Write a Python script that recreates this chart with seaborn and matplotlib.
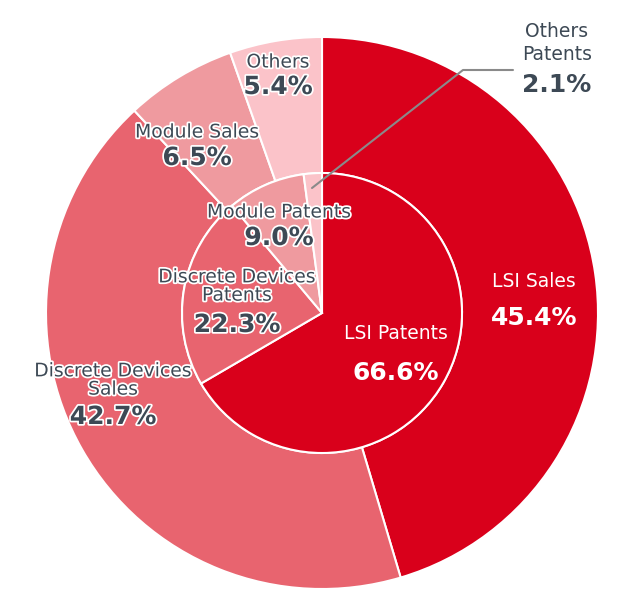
import matplotlib
matplotlib.use("Agg")
import matplotlib.pyplot as plt
import matplotlib.patheffects as pe
import seaborn as sns

# outer ring: sales share, inner pie: patent share (clockwise from 12 o'clock)
sales_labels = ["LSI Sales", "Discrete Devices\nSales", "Module Sales", "Others"]
sales_values = [45.4, 42.7, 6.5, 5.4]
patent_labels = ["LSI Patents", "Discrete Devices\nPatents", "Module Patents", "Others\nPatents"]
patent_values = [66.6, 22.3, 9.0, 2.1]
colors = ["#d9001b", "#e8646f", "#ef9a9f", "#fbc3c9"]

sns.set_theme(style="white")
plt.rcParams["font.family"] = ["DejaVu Sans"]

W, H = 644, 609
cx, cy, R = 322, 313, 276
fig = plt.figure(figsize=(W / 100, H / 100), dpi=100)
ax = fig.add_axes([0, 0, 1, 1])


def to_data(px, py):
    return (px - cx) / R, (cy - py) / R


ax.pie(sales_values, colors=colors, radius=1.0, startangle=90, counterclock=False,
       wedgeprops=dict(width=1 - 140 / R, edgecolor="white", linewidth=1.5))
ax.pie(patent_values, colors=colors, radius=140 / R, startangle=90, counterclock=False,
       wedgeprops=dict(edgecolor="white", linewidth=1.5))

ax.set_xlim(-cx / R, (W - cx) / R)
ax.set_ylim(-(H - cy) / R, cy / R)
ax.set_aspect("equal")
ax.axis("off")

dark = "#3d4955"
halo = [pe.withStroke(linewidth=2.5, foreground="white")]

# (label, value, name position px, value position px, color, outline, line spacing)
layout = [
    (sales_labels[0], sales_values[0], (534, 282), (534, 318), "white", False, 1.0),
    (sales_labels[1], sales_values[1], (113, 380), (113, 417), dark, True, 0.95),
    (sales_labels[2], sales_values[2], (197, 132), (197, 158), dark, True, 1.0),
    (sales_labels[3], sales_values[3], (278, 62), (278, 87), dark, True, 1.0),
    (patent_labels[0], patent_values[0], (396, 334), (396, 373), "white", False, 1.0),
    (patent_labels[1], patent_values[1], (237, 286), (237, 325), dark, True, 0.95),
    (patent_labels[2], patent_values[2], (279, 212), (279, 238), dark, True, 1.0),
    (patent_labels[3], patent_values[3], (557, 43), (557, 85), dark, False, 1.3),
]
for name, val, npos, vpos, col, outline, ls in layout:
    eff = halo if outline else None
    ax.text(*to_data(*npos), name, ha="center", va="center", fontsize=13.5,
            color=col, linespacing=ls, path_effects=eff)
    ax.text(*to_data(*vpos), f"{val:.1f}%", ha="center", va="center", fontsize=18,
            fontweight="bold", color=col, path_effects=eff)

# leader line for the small "Others Patents" slice
pts = [to_data(312, 188), to_data(463, 70), to_data(513, 70)]
ax.plot([p[0] for p in pts], [p[1] for p in pts], color="#8a8a8a", lw=1.5)

fig.savefig("out.png", dpi=100)
